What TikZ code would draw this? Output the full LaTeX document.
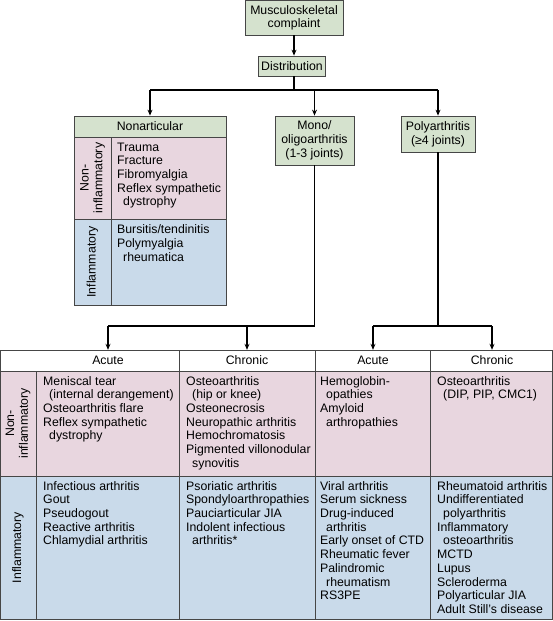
\documentclass[tikz,border=0pt]{standalone}
\usepackage{fontspec}
\setmainfont{Liberation Sans}
\usetikzlibrary{arrows.meta}
\definecolor{boxgreen}{RGB}{213,226,206}
\definecolor{rowpink}{RGB}{232,214,223}
\definecolor{rowblue}{RGB}{201,218,234}
\definecolor{edge}{RGB}{70,70,70}
\tikzset{
  gbox/.style={draw=edge, fill=boxgreen, align=center, inner sep=0pt, line width=0.8pt},
  conn/.style={line width=1.3pt, black},
  arr/.style={conn, -{Stealth[length=6pt,width=5pt]}},
  cell/.style={anchor=north west, align=left, inner sep=0pt, execute at begin node={\rule{0pt}{10pt}}},
  rlabel/.style={rotate=90, align=center, inner sep=0pt},
  gridline/.style={draw=edge, line width=0.8pt},
  hdr/.style={inner sep=0pt, minimum height=21pt}
}
\begin{document}
\begin{tikzpicture}[x=1pt, y=-1pt, font=\fontsize{12.3}{13.7}\selectfont]
\useasboundingbox (0,0) rectangle (553,621);

% top boxes
\node[gbox, minimum width=98pt, minimum height=34.5pt] (msk) at (294,17.75) {Musculoskeletal\\complaint};
\node[gbox, minimum width=67pt, minimum height=20pt] (dist) at (292,66) {Distribution};
\draw[arr] (msk.south) -- (msk.south |- dist.north);

% second level
\node[gbox, minimum width=152pt, minimum height=21pt] (nonart) at (150,126.5) {Nonarticular};
\node[gbox, minimum width=79pt, minimum height=49pt] (mono) at (314.5,140.5) {Mono/\\oligoarthritis\\(1-3 joints)};
\node[gbox, minimum width=74pt, minimum height=36pt] (poly) at (438,134) {Polyarthritis\\(≥4 joints)};

\coordinate (bar) at (294,90);
\draw[conn] (dist.south -| msk.south) -- (bar);
\draw[conn] (nonart.north |- bar) -- (poly.north |- bar);
\draw[arr] (nonart.north |- bar) -- (nonart.north);
\draw[arr] (mono.north |- bar) -- (mono.north);
\draw[arr] (poly.north |- bar) -- (poly.north);

% nonarticular body
\node[draw=edge, fill=rowpink, line width=0.8pt, anchor=north west, minimum width=152pt, minimum height=82pt, inner sep=0pt] (naNI) at (74,137) {};
\node[draw=edge, fill=rowblue, line width=0.8pt, anchor=north west, minimum width=152pt, minimum height=86pt, inner sep=0pt] (naI) at (74,219) {};
\draw[gridline] (111,137) -- (111,305);
\node[rlabel] (naNIlab) at (92.5,178) {Non-\\inflammatory};
\node[rlabel] (naIlab) at (92.5,262) {Inflammatory};
\node[cell] (naNItxt) at (117,142.5) {Trauma\\Fracture\\Fibromyalgia\\Reflex sympathetic\\\hspace*{6pt}dystrophy};
\node[cell] (naItxt) at (117,224.5) {Bursitis/tendinitis\\Polymyalgia\\\hspace*{6pt}rheumatica};

% table
\fill[rowpink] (0.5,371) rectangle (552.5,476);
\fill[rowblue] (0.5,476) rectangle (552.5,619.5);
\draw[gridline] (0.5,350) rectangle (552.5,619.5);
\draw[gridline] (0.5,371) -- (552.5,371);
\draw[gridline] (0.5,476) -- (552.5,476);
\draw[gridline] (36,371) -- (36,619.5);
\draw[gridline] (179,350) -- (179,619.5);
\draw[gridline] (315.5,350) -- (315.5,619.5);
\draw[gridline] (430.5,350) -- (430.5,619.5);

\node[hdr] (hAm) at (108,360.5) {Acute};
\node[hdr] (hCm) at (247,360.5) {Chronic};
\node[hdr] (hAp) at (373,360.5) {Acute};
\node[hdr] (hCp) at (492,360.5) {Chronic};

\coordinate (mbar) at (314.5,326);
\coordinate (pbar) at (438,326);
\draw[conn] (mono.south) -- (mbar) -- (hAm.north |- mbar);
\draw[arr] (hAm.north |- mbar) -- (hAm.north);
\draw[arr] (hCm.north |- mbar) -- (hCm.north);
\draw[conn] (poly.south) -- (pbar);
\draw[conn] (hAp.north |- pbar) -- (hCp.north |- pbar);
\draw[arr] (hAp.north |- pbar) -- (hAp.north);
\draw[arr] (hCp.north |- pbar) -- (hCp.north);

\node[rlabel] (tNIlab) at (18,423.5) {Non-\\inflammatory};
\node[rlabel] (tIlab) at (18,547.5) {Inflammatory};

\node[cell] (c11) at (43,376) {Meniscal tear\\\hspace*{6pt}(internal derangement)\\Osteoarthritis flare\\Reflex sympathetic\\\hspace*{6pt}dystrophy};
\node[cell] (c12) at (186,376) {Osteoarthritis\\\hspace*{6pt}(hip or knee)\\Osteonecrosis\\Neuropathic arthritis\\Hemochromatosis\\Pigmented villonodular\\\hspace*{6pt}synovitis};
\node[cell] (c13) at (320,376) {Hemoglobin-\\\hspace*{6pt}opathies\\Amyloid\\\hspace*{6pt}arthropathies};
\node[cell] (c14) at (437,376) {Osteoarthritis\\\hspace*{6pt}(DIP, PIP, CMC1)};

\node[cell] (c21) at (43,481) {Infectious arthritis\\Gout\\Pseudogout\\Reactive arthritis\\Chlamydial arthritis};
\node[cell] (c22) at (186,481) {Psoriatic arthritis\\Spondyloarthropathies\\Pauciarticular JIA\\Indolent infectious\\\hspace*{6pt}arthritis*};
\node[cell] (c23) at (320,481) {Viral arthritis\\Serum sickness\\Drug-induced\\\hspace*{6pt}arthritis\\Early onset of CTD\\Rheumatic fever\\Palindromic\\\hspace*{6pt}rheumatism\\RS3PE};
\node[cell] (c24) at (437,481) {Rheumatoid arthritis\\Undifferentiated\\\hspace*{6pt}polyarthritis\\Inflammatory\\\hspace*{6pt}osteoarthritis\\MCTD\\Lupus\\Scleroderma\\Polyarticular JIA\\Adult Still's disease};
\end{tikzpicture}
\end{document}
